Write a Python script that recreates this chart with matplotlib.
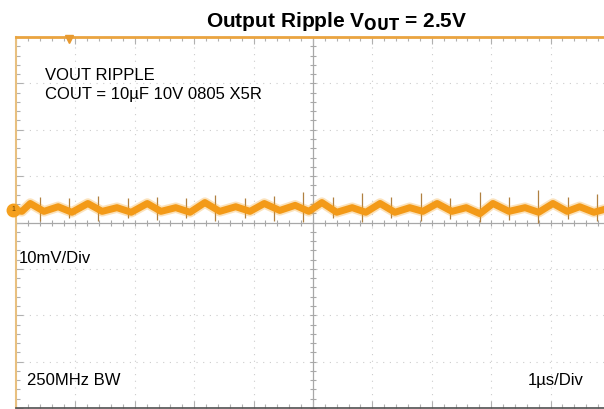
import matplotlib.pyplot as plt
import numpy as np

plt.rcParams['font.family'] = ['Liberation Sans', 'DejaVu Sans']

# trace: time in us, level in mV (0 = centre line)
trace_t = [-5.0, -4.90, -4.76, -4.53, -4.29, -4.06, -3.79, -3.55, -3.30, -3.06,
           -2.79, -2.56, -2.31, -2.07, -1.82, -1.57, -1.30, -1.06, -0.82, -0.56,
           -0.30, -0.07, 0.15, 0.40, 0.66, 0.89, 1.13, 1.38, 1.63, 1.85,
           2.09, 2.34, 2.58, 2.81, 3.03, 3.30, 3.57, 3.80, 4.04, 4.28,
           4.49, 4.73, 4.90]
trace_mv = [2.6, 2.4, 4.1, 2.4, 3.4, 2.2, 4.1, 2.4, 3.2, 2.2,
            4.1, 2.4, 3.2, 2.2, 4.3, 2.4, 3.4, 2.4, 4.1, 2.6,
            3.7, 2.4, 4.3, 2.2, 3.2, 2.2, 4.1, 2.2, 3.2, 2.4,
            4.1, 2.4, 3.2, 1.9, 4.1, 2.4, 3.2, 2.2, 4.1, 2.4,
            3.4, 2.2, 2.8]

# switching spikes
spike_t = [-4.60, -4.11, -3.62, -3.11, -2.63, -2.14, -1.65, -1.14, -0.66, -0.17,
           0.34, 0.82, 1.31, 1.82, 2.31, 2.81, 3.30, 3.79, 4.29, 4.78]
spike_hi = [5.6, 5.2, 5.8, 5.3, 5.6, 5.2, 6.0, 5.3, 5.8, 6.5,
            5.4, 6.4, 5.5, 6.4, 5.3, 6.5, 5.6, 7.0, 5.4, 6.2]
spike_lo = [0.4, 0.9, 0.4, 0.9, 0.5, 0.9, 0.3, 0.9, 0.4, 0.1,
            0.9, 0.2, 0.9, 0.3, 0.8, 0.1, 0.6, 0.0, 0.8, 0.3]

notes = ['VOUT RIPPLE', 'COUT = 10µF 10V 0805 X5R']
title = r'Output Ripple V$_{\mathbf{OUT}}$ = 2.5V'

orange = '#f5a01e'
grid_c = '#cccccc'

fig = plt.figure(figsize=(6.04, 4.09), dpi=100, facecolor='white')
ax = fig.add_axes([16 / 604, 1 / 409, 1 - 16 / 604, 371 / 409])
ax.set_xlim(-5, 4.9)
ax.set_ylim(-40, 40)

# dotted graticule
for gx in range(-4, 5):
    if gx != 0:
        ax.axvline(gx, color=grid_c, lw=0.8, ls=(0, (1, 5)), zorder=1)
for gy in range(-30, 40, 10):
    if gy != 0:
        ax.axhline(gy, color=grid_c, lw=0.8, ls=(0, (1, 5)), zorder=1)

# centre cross with minor ticks
ax.axhline(0, color='#a8a8a8', lw=0.9, zorder=1)
ax.axvline(0, color='#a8a8a8', lw=0.9, zorder=1)
mx = np.arange(-5, 5, 0.2)
my = np.arange(-40, 40.1, 2)
ax.plot(mx, np.zeros_like(mx), ls='none', marker='|', ms=5, color='#a8a8a8', mew=0.8, zorder=1)
ax.plot(np.zeros_like(my), my, ls='none', marker='_', ms=5, color='#a8a8a8', mew=0.8, zorder=1)

# border ticks
ax.set_xticks(np.arange(-5, 5, 1))
ax.set_xticks(mx, minor=True)
ax.set_yticks(np.arange(-40, 41, 10))
ax.set_yticks(my, minor=True)
ax.tick_params(which='both', direction='in', top=True, bottom=True, left=True, right=False,
               labelbottom=False, labelleft=False, color='#b0b0b0', width=0.8)
ax.tick_params(which='major', length=5)
ax.tick_params(which='minor', length=3)

ax.spines['right'].set_visible(False)
ax.spines['left'].set_color('#e8c080')
ax.spines['left'].set_linewidth(1.5)
ax.spines['top'].set_color('#eaa440')
ax.spines['top'].set_linewidth(2)
ax.spines['bottom'].set_color('#505050')
ax.spines['bottom'].set_linewidth(1.2)

# trace
ax.vlines(spike_t, spike_lo, spike_hi, color='#b08040', lw=0.9, zorder=3)
ax.plot(trace_t, trace_mv, color=orange, lw=7.5, alpha=0.3, solid_joinstyle='round',
        solid_capstyle='round', zorder=4)
ax.plot(trace_t, trace_mv, color='#f39a18', lw=5, solid_joinstyle='round', zorder=5)

# markers: trigger and channel 1
ax.plot([-4.11], [39.5], marker='v', ms=6, color='#e89a30', clip_on=False, zorder=6)
ax.plot([-5.05], [2.8], marker='o', ms=9, color=orange, clip_on=False, zorder=6)
ax.text(-5.05, 2.8, '1', fontsize=5, ha='center', va='center', color='#6a4000', zorder=7,
        clip_on=False)

ax.text(0.0495, 0.885, notes[0], transform=ax.transAxes, fontsize=12, va='baseline')
ax.text(0.0495, 0.834, notes[1], transform=ax.transAxes, fontsize=12, va='baseline')
ax.text(0.005, 0.39, '10mV/Div', transform=ax.transAxes, fontsize=12, va='baseline')
ax.text(0.019, 0.063, '250MHz BW', transform=ax.transAxes, fontsize=12, va='baseline')
ax.text(0.965, 0.063, '1µs/Div', transform=ax.transAxes, fontsize=12, va='baseline', ha='right')

fig.text(337 / 604, 1 - 27 / 409, title, fontsize=15, fontweight='bold', ha='center',
         va='baseline')

fig.savefig('out.png', dpi=100, facecolor='white')
